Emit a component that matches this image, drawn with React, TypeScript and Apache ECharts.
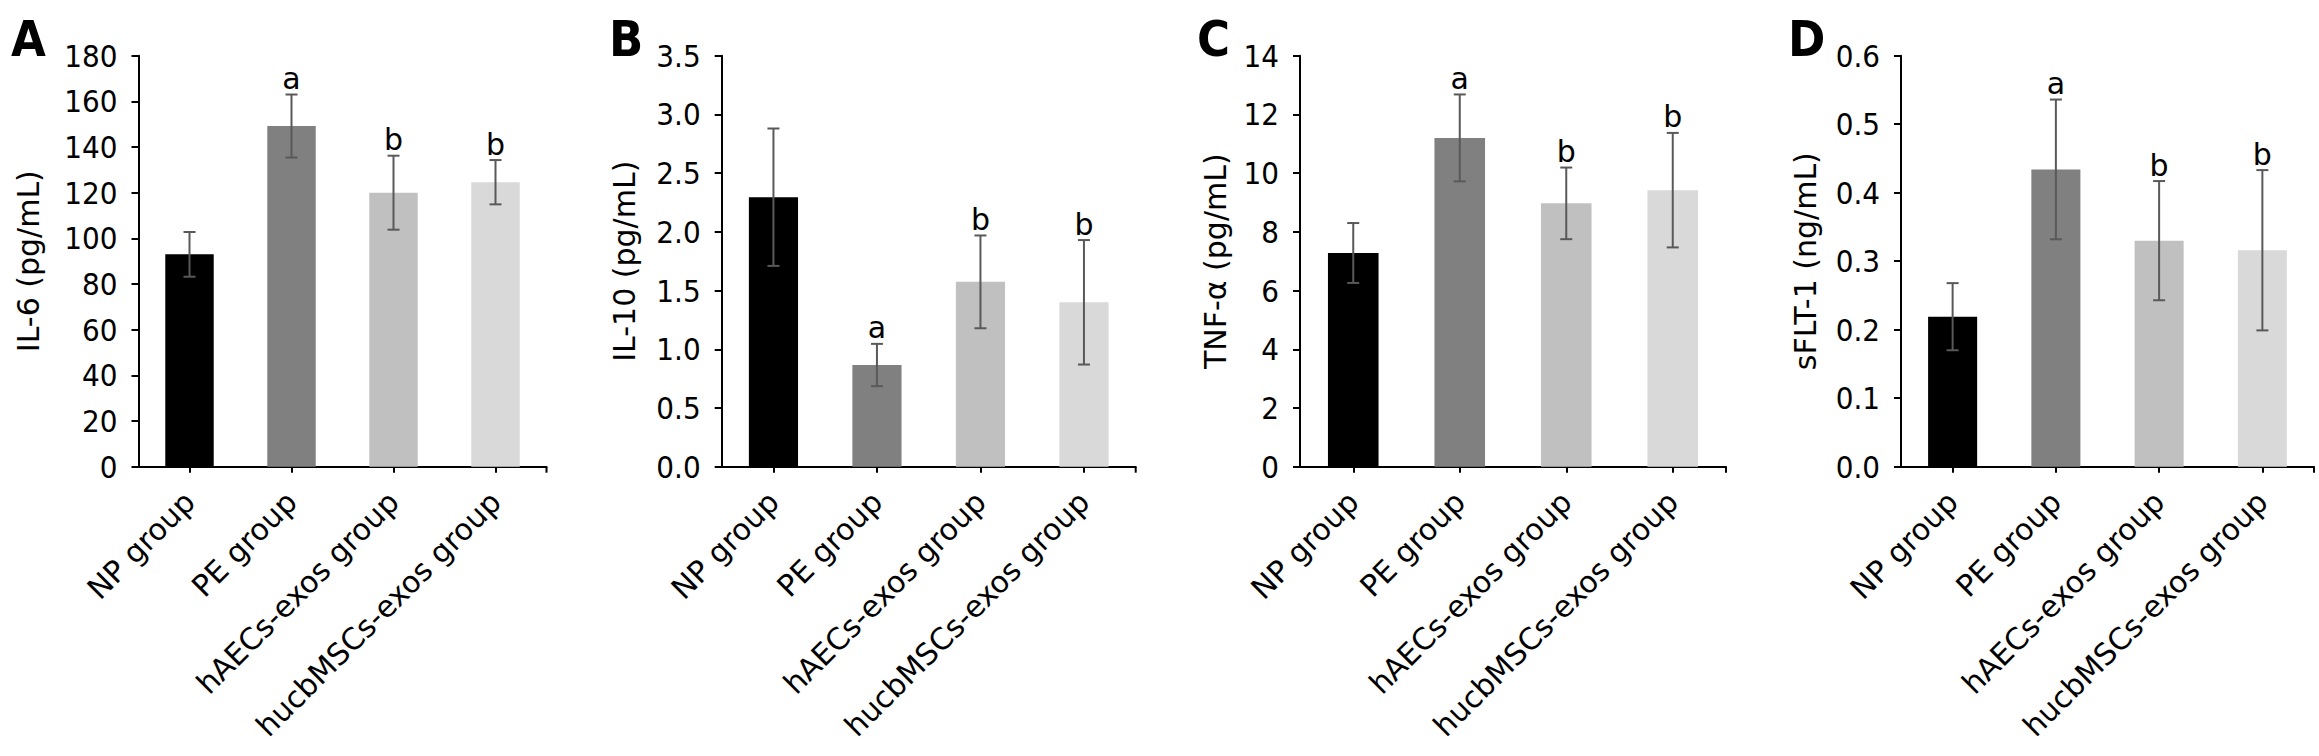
import React, { useEffect, useRef } from "react";
import * as echarts from "echarts";

const categories = ["NP group", "PE group", "hAECs-exos group", "hucbMSCs-exos group"];
const barColors = ["#000000", "#808080", "#c0c0c0", "#d9d9d9"];

const il6Mean = [93, 149.2, 120, 124.6];
const il6Err = [9.8, 13.8, 16.2, 9.7];
const il6Letters = ["", "a", "b", "b"];

const il10Mean = [2.295, 0.866, 1.574, 1.4];
const il10Err = [0.585, 0.18, 0.395, 0.53];
const il10Letters = ["", "a", "b", "b"];

const tnfMean = [7.28, 11.2, 8.97, 9.42];
const tnfErr = [1.02, 1.48, 1.22, 1.95];
const tnfLetters = ["", "a", "b", "b"];

const sfltMean = [0.219, 0.434, 0.33, 0.316];
const sfltErr = [0.049, 0.102, 0.087, 0.117];
const sfltLetters = ["", "a", "b", "b"];

const panelLetters = ["A", "B", "C", "D"];
const yNames = ["IL-6 (pg/mL)", "IL-10 (pg/mL)", "TNF-α (pg/mL)", "sFLT-1 (ng/mL)"];
const yMax = [180, 3.5, 14, 0.6];
const yInterval = [20, 0.5, 2, 0.1];
const yDecimals = [0, 1, 0, 1];

const panels = [
  { mean: il6Mean, err: il6Err, letters: il6Letters },
  { mean: il10Mean, err: il10Err, letters: il10Letters },
  { mean: tnfMean, err: tnfErr, letters: tnfLetters },
  { mean: sfltMean, err: sfltErr, letters: sfltLetters },
];

// layout (pixels)
const gridLeft = [138.5, 721.7, 1300, 1901];
const gridWidth = [408, 414, 426, 413];
const gridTop = 55.7;
const gridHeight = 411;
const nameGaps = [95, 82, 70, 81];
const letterX = [11, 609, 1197, 1788];

const FONT = "DejaVu Sans";
const TICK_FONT = '"DejaVu Sans Condensed", "DejaVu Sans"';

export default function App() {
  const ref = useRef<HTMLDivElement>(null);

  useEffect(() => {
    if (!ref.current) return;
    const chart = echarts.init(ref.current, null, { renderer: "svg" });

    const grid: any[] = [];
    const xAxis: any[] = [];
    const yAxis: any[] = [];
    const series: any[] = [];
    const graphic: any[] = [];

    panels.forEach((p, k) => {
      grid.push({
        left: gridLeft[k],
        top: gridTop,
        width: gridWidth[k],
        height: gridHeight,
        containLabel: false,
      });
      xAxis.push({
        type: "category",
        gridIndex: k,
        data: categories,
        axisLine: { show: true, lineStyle: { color: "#000", width: 2 } },
        axisTick: { show: true, alignWithLabel: true, length: 6, lineStyle: { color: "#000", width: 2 } },
        axisLabel: {
          interval: 0,
          rotate: 45,
          margin: 30,
          fontSize: 30,
          fontFamily: FONT,
          color: "#000",
        },
        splitLine: { show: false },
      });
      yAxis.push({
        type: "value",
        gridIndex: k,
        min: 0,
        max: yMax[k],
        interval: yInterval[k],
        axisLine: { show: true, lineStyle: { color: "#000", width: 2 } },
        axisTick: { show: true, length: 7, lineStyle: { color: "#000", width: 2 } },
        splitLine: { show: false },
        axisLabel: {
          margin: 21,
          fontSize: 31,
          fontFamily: TICK_FONT,
          color: "#000",
          formatter: (v: number) => v.toFixed(yDecimals[k]),
        },
        name: yNames[k],
        nameLocation: "middle",
        nameGap: nameGaps[k],
        nameTextStyle: { fontSize: 30, fontFamily: FONT, color: "#000" },
      });
      series.push({
        type: "bar",
        xAxisIndex: k,
        yAxisIndex: k,
        barWidth: "47.5%",
        data: p.mean.map((v, i) => ({ value: v, itemStyle: { color: barColors[i] } })),
        z: 2,
      });
      series.push({
        type: "custom",
        xAxisIndex: k,
        yAxisIndex: k,
        clip: false,
        z: 3,
        data: p.mean.map((v, i) => [i, v, p.err[i]]),
        renderItem: (params: any, api: any) => {
          const i = params.dataIndex;
          const x = api.value(0);
          const m = api.value(1);
          const e = api.value(2);
          const top = api.coord([x, m + e]);
          const bot = api.coord([x, m - e]);
          const half = 6;
          const st = { stroke: "#595959", lineWidth: 2 };
          const children: any[] = [
            { type: "line", shape: { x1: top[0], y1: top[1], x2: bot[0], y2: bot[1] }, style: st },
            { type: "line", shape: { x1: top[0] - half, y1: top[1], x2: top[0] + half, y2: top[1] }, style: st },
            { type: "line", shape: { x1: bot[0] - half, y1: bot[1], x2: bot[0] + half, y2: bot[1] }, style: st },
          ];
          const letter = p.letters[i];
          if (letter) {
            children.push({
              type: "text",
              x: top[0],
              y: top[1] - 1,
              style: {
                text: letter,
                fontSize: 30,
                fontFamily: FONT,
                fill: "#000",
                align: "center",
                verticalAlign: "bottom",
              },
            });
          }
          if (i === categories.length - 1) {
            const base = api.coord([x, 0]);
            const band = api.size([1, 0])[0];
            children.push({
              type: "line",
              shape: { x1: base[0] + band / 2, y1: base[1], x2: base[0] + band / 2, y2: base[1] + 6 },
              style: { stroke: "#000", lineWidth: 2 },
            });
          }
          return { type: "group", children };
        },
      });
      graphic.push({
        type: "text",
        x: letterX[k],
        y: 38.5,
        style: {
          text: panelLetters[k],
          font: 'bold 50px "DejaVu Sans Condensed", "DejaVu Sans"',
          fill: "#000",
          align: "left",
          verticalAlign: "middle",
        },
      });
    });

    chart.setOption({
      animation: false,
      backgroundColor: "#ffffff",
      grid,
      xAxis,
      yAxis,
      series,
      graphic,
    });

    return () => {
      chart.dispose();
    };
  }, []);

  return (
    <div
      ref={ref}
      style={{ position: "fixed", left: 0, top: 0, width: 2319, height: 756, background: "#fff" }}
    />
  );
}
